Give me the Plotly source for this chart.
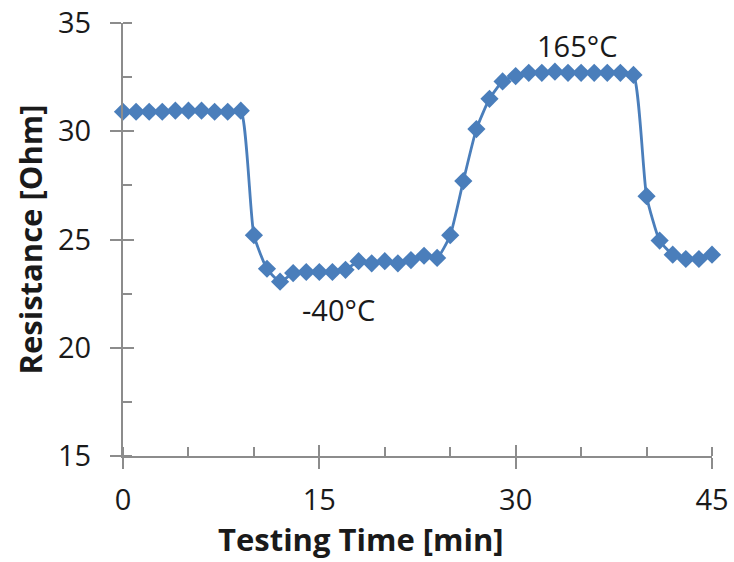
import plotly.graph_objects as go

time_min = list(range(46))
resistance = [30.9, 30.9, 30.9, 30.9, 30.95, 30.95, 30.95, 30.9, 30.9, 30.95,
              25.2, 23.65, 23.05, 23.45, 23.5, 23.5, 23.5, 23.6, 24.0, 23.9,
              24.0, 23.9, 24.05, 24.25, 24.15,
              25.2, 27.7, 30.1, 31.5, 32.3, 32.55, 32.7, 32.7, 32.75, 32.7,
              32.7, 32.7, 32.7, 32.7, 32.6,
              27.0, 24.95, 24.3, 24.1, 24.1, 24.3]

x_ticks = [0, 15, 30, 45]
y_ticks = [15, 20, 25, 30, 35]
labels = ["165°C", "-40°C"]
label_x = [34.7, 16.5]
label_y = [33.95, 21.75]

BLUE = "#4A7EBB"
GRAY = "#8C8C8C"
FONT = "Open Sans"

fig = go.Figure()
fig.add_trace(go.Scatter(
    x=time_min, y=resistance, mode="lines+markers",
    line=dict(color=BLUE, width=2.8, shape="spline", smoothing=0.5),
    marker=dict(symbol="diamond", size=14, color=BLUE),
    cliponaxis=False, showlegend=False))
fig.add_trace(go.Scatter(x=[None], y=[None], xaxis="x2", yaxis="y2",
                         showlegend=False, hoverinfo="skip"))

for t, xv, yv in zip(labels, label_x, label_y):
    fig.add_annotation(x=xv, y=yv, text=t, showarrow=False,
                       font=dict(family=FONT, size=29, color="#1a1a1a"))

fig.add_annotation(x=18.2, xref="x", y=-0.192, yref="paper", text="<b>Testing Time [min]</b>",
                   showarrow=False, yanchor="middle",
                   font=dict(family=FONT, size=31, color="#1a1a1a"))
fig.add_annotation(x=-0.158, xref="paper", y=25, yref="y", text="<b>Resistance [Ohm]</b>",
                   showarrow=False, textangle=-90, xanchor="center",
                   font=dict(family=FONT, size=31, color="#1a1a1a"))

axis_common = dict(showgrid=False, zeroline=False, showline=True, linecolor=GRAY, linewidth=2,
                   ticks="outside", ticklen=11, tickwidth=2, tickcolor=GRAY, automargin=False,
                   tickfont=dict(family=FONT, size=29, color="#1a1a1a"))

fig.update_layout(
    width=734, height=562,
    margin=dict(l=123, r=22, t=23, b=106, autoexpand=False),
    paper_bgcolor="white", plot_bgcolor="white",
    xaxis=dict(range=[0, 45], tickmode="array", tickvals=x_ticks, ticklabelstandoff=6,
               minor=dict(dtick=5, tick0=0, ticks="inside", ticklen=9, tickwidth=1.5, tickcolor=GRAY),
               **axis_common),
    yaxis=dict(range=[15, 35], tickmode="array", tickvals=y_ticks, ticklabelstandoff=13,
               minor=dict(dtick=2.5, tick0=15, ticks="inside", ticklen=9, tickwidth=1.5, tickcolor=GRAY),
               **axis_common),
    xaxis2=dict(range=[0, 45], overlaying="x", anchor="y2", side="bottom", showgrid=False,
                zeroline=False, showline=False, tickmode="array", tickvals=x_ticks, automargin=False,
                ticks="inside", ticklen=11, tickwidth=2, tickcolor=GRAY, showticklabels=False),
    yaxis2=dict(range=[15, 35], overlaying="y", anchor="x2", side="left", showgrid=False,
                zeroline=False, showline=False, tickmode="array", tickvals=y_ticks, automargin=False,
                ticks="inside", ticklen=11, tickwidth=2, tickcolor=GRAY, showticklabels=False),
)

fig.write_html("out.html")
